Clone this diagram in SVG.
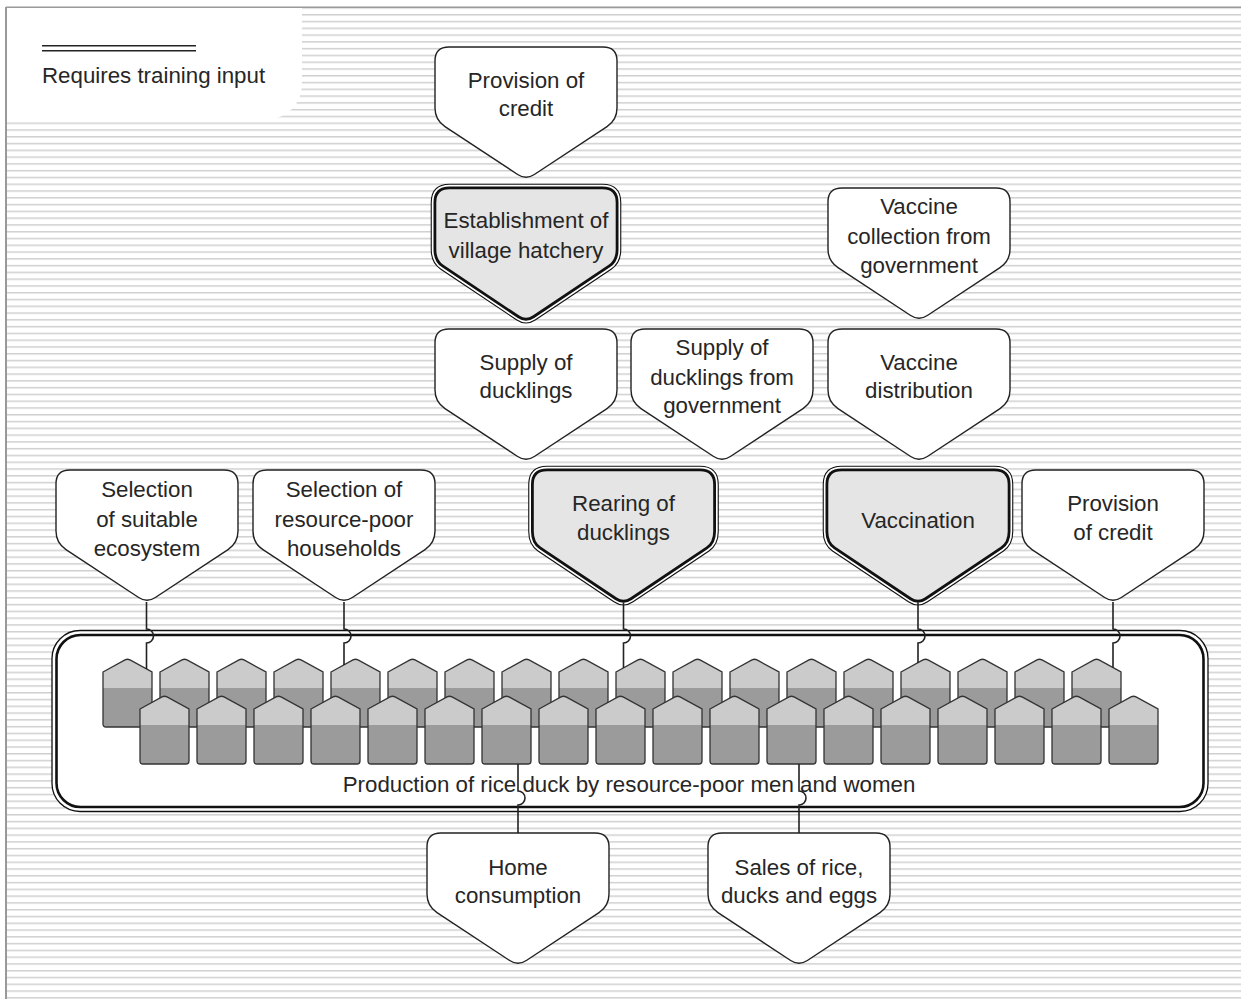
<svg xmlns="http://www.w3.org/2000/svg" xmlns:xlink="http://www.w3.org/1999/xlink" width="1241" height="999" viewBox="0 0 1241 999">
<style>
.t{font-family:"Liberation Sans",Arial,sans-serif;font-size:22.3px;fill:#262626;text-anchor:middle}
.wn{fill:#fff;stroke:#222;stroke-width:1.4}
.gnb{fill:#e5e5e5;stroke:#111;stroke-width:5.6}
.gnw{fill:none;stroke:#fff;stroke-width:3.4}
.house{fill:url(#hg);stroke:#333;stroke-width:1.3}
.conn{fill:none;stroke:#222;stroke-width:1.6}
</style>
<defs>
<pattern id="bg" patternUnits="userSpaceOnUse" x="0" y="14" width="20" height="6.78">
<rect x="0" y="0" width="20" height="1.5" fill="#d0d0d0"/>
</pattern>
<linearGradient id="hg" x1="0" y1="0" x2="0" y2="1">
<stop offset="0" stop-color="#cbcbcb"/>
<stop offset="0.426" stop-color="#cbcbcb"/>
<stop offset="0.426" stop-color="#9b9b9b"/>
<stop offset="1" stop-color="#9b9b9b"/>
</linearGradient>
<path id="wp" d="M14,0 H168 Q182,0 182,14 V61 Q182,73 172,79.6 L99.35,127.5 Q91,133 82.65,127.5 L10,79.6 Q0,73 0,61 V14 Q0,0 14,0 Z"/>
<path id="gp" d="M16,0 H169 Q185,0 185,16 V63 Q185,75 176.7,80.6 L100.8,131.4 Q92.5,137 84.2,131.4 L8.3,80.6 Q0,75 0,63 V16 Q0,0 16,0 Z"/>
<path id="hp" d="M0,13 L22,0.9 Q24.5,-0.4 27,0.9 L49,13 V65 Q49,68 46,68 H3 Q0,68 0,65 Z"/>
<mask id="outside" maskUnits="userSpaceOnUse" x="-20" y="-20" width="230" height="180">
<rect x="-20" y="-20" width="230" height="180" fill="#fff"/>
<use href="#gp" fill="#000"/>
</mask>
</defs>
<rect width="1241" height="999" fill="#fff"/>
<rect x="6" y="8" width="1235" height="991" fill="url(#bg)"/>
<path d="M6,8 H302 V84.5 A35,35 0 0 1 267,119.5 H6 Z" fill="#fff"/>
<line x1="6" y1="7.3" x2="1241" y2="7.3" stroke="#999" stroke-width="1.5"/>
<line x1="6" y1="7" x2="6" y2="999" stroke="#999" stroke-width="2"/>

<g id="legend">
<line x1="42" y1="45.8" x2="196" y2="45.8" stroke="#222" stroke-width="1.6"/>
<line x1="42" y1="50.8" x2="196" y2="50.8" stroke="#222" stroke-width="1.6"/>
<text x="42" y="83" class="t" style="text-anchor:start">Requires training input</text>
</g>

<g id="n-credit-top"><use href="#wp" x="435" y="47" class="wn"/>
<text class="t" x="526" y="88">Provision of</text><text class="t" x="526" y="116">credit</text></g>

<g id="n-hatchery"><g transform="translate(433.5,186.5)"><use href="#gp" class="gnb"/><use href="#gp" class="gnw" mask="url(#outside)"/></g>
<text class="t" x="526" y="228">Establishment of</text><text class="t" x="526" y="258">village hatchery</text></g>

<g id="n-vac-collect"><use href="#wp" x="828" y="188" class="wn"/>
<text class="t" x="919" y="214">Vaccine</text><text class="t" x="919" y="244">collection from</text><text class="t" x="919" y="273">government</text></g>

<g id="n-supply"><use href="#wp" x="435" y="329" class="wn"/>
<text class="t" x="526" y="370">Supply of</text><text class="t" x="526" y="398">ducklings</text></g>

<g id="n-supply-gov"><use href="#wp" x="631" y="329" class="wn"/>
<text class="t" x="722" y="355">Supply of</text><text class="t" x="722" y="385">ducklings from</text><text class="t" x="722" y="413">government</text></g>

<g id="n-vac-dist"><use href="#wp" x="828" y="329" class="wn"/>
<text class="t" x="919" y="370">Vaccine</text><text class="t" x="919" y="398">distribution</text></g>

<g id="n-sel-eco"><use href="#wp" x="56" y="470" class="wn"/>
<text class="t" x="147" y="497">Selection</text><text class="t" x="147" y="527">of suitable</text><text class="t" x="147" y="556">ecosystem</text></g>

<g id="n-sel-hh"><use href="#wp" x="253" y="470" class="wn"/>
<text class="t" x="344" y="497">Selection of</text><text class="t" x="344" y="527">resource-poor</text><text class="t" x="344" y="556">households</text></g>

<g id="n-rearing"><g transform="translate(531,468.5)"><use href="#gp" class="gnb"/><use href="#gp" class="gnw" mask="url(#outside)"/></g>
<text class="t" x="623.5" y="511">Rearing of</text><text class="t" x="623.5" y="540">ducklings</text></g>

<g id="n-vaccination"><g transform="translate(825.5,468.5)"><use href="#gp" class="gnb"/><use href="#gp" class="gnw" mask="url(#outside)"/></g>
<text class="t" x="918" y="528">Vaccination</text></g>

<g id="n-credit-right"><use href="#wp" x="1022" y="470" class="wn"/>
<text class="t" x="1113" y="511">Provision</text><text class="t" x="1113" y="540">of credit</text></g>

<g id="n-home"><use href="#wp" x="427" y="833" class="wn"/>
<text class="t" x="518" y="875">Home</text><text class="t" x="518" y="903">consumption</text></g>

<g id="n-sales"><use href="#wp" x="708" y="833" class="wn"/>
<text class="t" x="799" y="875">Sales of rice,</text><text class="t" x="799" y="903">ducks and eggs</text></g>

<g id="n-production">
<rect x="52" y="630.5" width="1156" height="181" rx="28" fill="#fff" stroke="#111" stroke-width="1.3"/>
<rect x="56.5" y="635" width="1147" height="172" rx="24" fill="#fff" stroke="#111" stroke-width="2.6"/>
<g id="houses-back">
<use href="#hp" x="103" y="659" class="house"/><use href="#hp" x="160" y="659" class="house"/><use href="#hp" x="217" y="659" class="house"/><use href="#hp" x="274" y="659" class="house"/><use href="#hp" x="331" y="659" class="house"/><use href="#hp" x="388" y="659" class="house"/><use href="#hp" x="445" y="659" class="house"/><use href="#hp" x="502" y="659" class="house"/><use href="#hp" x="559" y="659" class="house"/><use href="#hp" x="616" y="659" class="house"/><use href="#hp" x="673" y="659" class="house"/><use href="#hp" x="730" y="659" class="house"/><use href="#hp" x="787" y="659" class="house"/><use href="#hp" x="844" y="659" class="house"/><use href="#hp" x="901" y="659" class="house"/><use href="#hp" x="958" y="659" class="house"/><use href="#hp" x="1015" y="659" class="house"/><use href="#hp" x="1072" y="659" class="house"/>
</g>
<g id="houses-front">
<use href="#hp" x="140" y="696" class="house"/><use href="#hp" x="197" y="696" class="house"/><use href="#hp" x="254" y="696" class="house"/><use href="#hp" x="311" y="696" class="house"/><use href="#hp" x="368" y="696" class="house"/><use href="#hp" x="425" y="696" class="house"/><use href="#hp" x="482" y="696" class="house"/><use href="#hp" x="539" y="696" class="house"/><use href="#hp" x="596" y="696" class="house"/><use href="#hp" x="653" y="696" class="house"/><use href="#hp" x="710" y="696" class="house"/><use href="#hp" x="767" y="696" class="house"/><use href="#hp" x="824" y="696" class="house"/><use href="#hp" x="881" y="696" class="house"/><use href="#hp" x="938" y="696" class="house"/><use href="#hp" x="995" y="696" class="house"/><use href="#hp" x="1052" y="696" class="house"/><use href="#hp" x="1109" y="696" class="house"/>
</g>
<text class="t" x="629" y="792">Production of rice duck by resource-poor men and women</text>
</g>

<g id="connectors" class="conn">
<path d="M146.5,602 V629 A7,7 0 0 1 146.5,643 V669"/>
<path d="M344,602 V629 A7,7 0 0 1 344,643 V665"/>
<path d="M623.5,602.5 V629 A7,7 0 0 1 623.5,643 V668"/>
<path d="M918,602.5 V629 A7,7 0 0 1 918,643 V663"/>
<path d="M1113,602 V629 A7,7 0 0 1 1113,643 V667.5"/>
<path d="M518,833 V805 A7,7 0 0 0 518,791 V764"/>
<path d="M799,833 V805 A7,7 0 0 0 799,791 V764"/>
</g>
</svg>
